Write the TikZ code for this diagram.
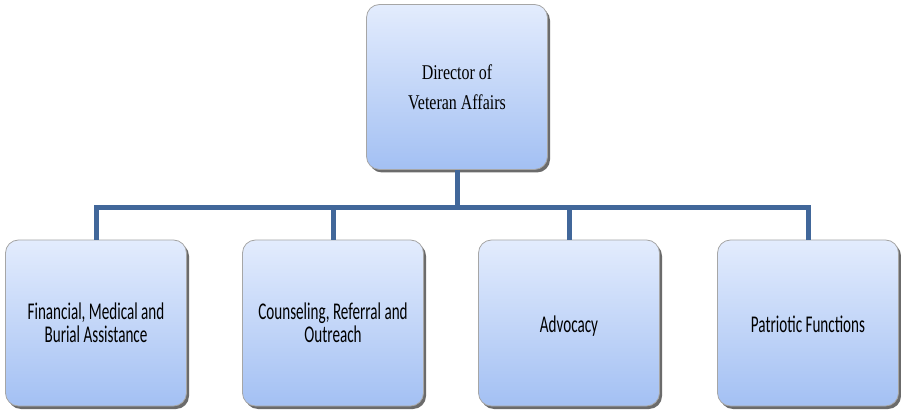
\documentclass[tikz,border=0pt]{standalone}
\usepackage{fontspec}
\usetikzlibrary{shadows}
\newfontfamily\headfont[FakeStretch=0.76]{Liberation Serif}
\newfontfamily\boxfont[FakeStretch=0.63]{Carlito}
\definecolor{boxtop}{HTML}{E3ECFD}
\definecolor{boxbottom}{HTML}{A3C0F3}
\definecolor{boxedge}{HTML}{A6A6A6}
\definecolor{boxshadow}{HTML}{6B6B6B}
\definecolor{linkblue}{HTML}{41679A}
\tikzset{
  orgbox/.style={
    rectangle, rounded corners=13pt, draw=boxedge, line width=0.8pt,
    top color=boxtop, bottom color=boxbottom,
    general shadow={fill=boxshadow, shadow xshift=2.5pt, shadow yshift=-3pt},
    minimum width=181pt, align=center, inner sep=0pt
  },
  headbox/.style={orgbox, minimum height=165pt,
    font=\headfont\fontsize{21pt}{30pt}\selectfont},
  unitbox/.style={orgbox, minimum height=166pt,
    font=\boxfont\fontsize{24pt}{22.5pt}\selectfont},
  oneline/.style={text height=19pt, text depth=0pt},
  link/.style={draw=linkblue, line width=5pt}
}
\begin{document}
\begin{tikzpicture}[x=1pt, y=-1pt]
  \useasboundingbox (0,0) rectangle (901,411);

  % director
  \node[headbox] (dir) at (457,87) {Director of\\Veteran Affairs};

  % units
  \node[unitbox] (fin) at (96,323) {Financial, Medical and\\Burial Assistance};
  \node[unitbox] (cou) at (333,323) {Counseling, Referral and\\Outreach};
  \node[unitbox, oneline] (adv) at (569,323) {Advocacy};
  \node[unitbox, oneline] (pat) at (808,323) {Patriotic Functions};

  % connector bus
  \coordinate (bus) at (0,208);
  \draw[link] (fin.north) -- (fin.north |- bus) -- (pat.north |- bus) -- (pat.north);
  \draw[link] (dir.south) -- (dir.south |- bus);
  \draw[link] (cou.north) -- (cou.north |- bus);
  \draw[link] (adv.north) -- (adv.north |- bus);
\end{tikzpicture}
\end{document}
